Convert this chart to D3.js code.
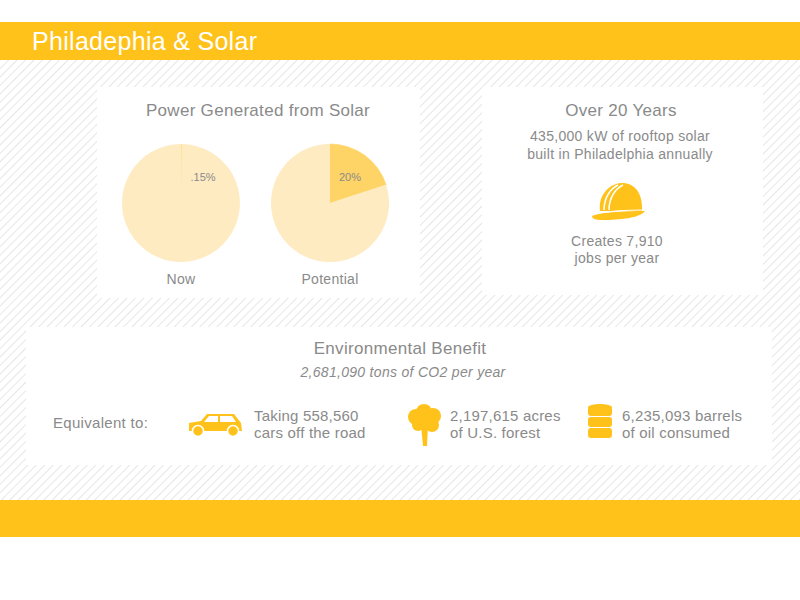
<!DOCTYPE html>
<html>
<head>
<script src="https://cdn.jsdelivr.net/npm/d3@7"></script>
<style>
body { margin:0; background:#fff; }
text { font-family: "Liberation Sans", Arial, sans-serif; }
</style>
</head>
<body>
<script>
var pieLabels = ["Now", "Potential"],
    pieShares = [0.15, 20],
    pieText = [".15%", "20%"];

var equivText = [["Taking 558,560", "cars off the road"],
                 ["2,197,615 acres", "of U.S. forest"],
                 ["6,235,093 barrels", "of oil consumed"]];
var equivX = [254, 450, 622];

var yellow = "#FFC21A", grey = "#8a8a8a";

var svg = d3.select("body").append("svg").attr("width", 800).attr("height", 600);

var defs = svg.append("defs");
var pat = defs.append("pattern").attr("id", "hatch").attr("width", 6).attr("height", 6)
  .attr("patternUnits", "userSpaceOnUse").attr("patternTransform", "rotate(45)");
pat.append("rect").attr("width", 6).attr("height", 6).attr("fill", "#fff");
pat.append("line").attr("x1", 0).attr("y1", 0).attr("x2", 0).attr("y2", 6)
  .attr("stroke", "#e6e6e6").attr("stroke-width", 2);

svg.append("rect").attr("x", 0).attr("y", 60).attr("width", 800).attr("height", 441).attr("fill", "url(#hatch)");
svg.append("rect").attr("x", 0).attr("y", 22).attr("width", 800).attr("height", 38).attr("fill", yellow);
svg.append("rect").attr("x", 0).attr("y", 500).attr("width", 800).attr("height", 37).attr("fill", yellow);
svg.append("text").text("Philadephia & Solar").attr("x", 32).attr("y", 50).attr("fill", "#fff").attr("font-size", 25)
  .attr("letter-spacing", 0.3);

// panels
[[97, 87, 323, 211], [482, 87, 281, 208], [26, 327, 746, 138]].forEach(function(p){
  svg.append("rect").attr("x", p[0]).attr("y", p[1]).attr("width", p[2]).attr("height", p[3]).attr("fill", "#fff");
});

function label(t, x, y, size, extra) {
  var e = svg.append("text").text(t).attr("x", x).attr("y", y).attr("fill", grey)
    .attr("font-size", size).attr("text-anchor", "middle").attr("letter-spacing", 0.3);
  if (extra) e.attr("font-style", extra);
  return e;
}

label("Power Generated from Solar", 258, 116, 17);

var pie = d3.pie().sort(null).value(function(d){ return d; });
var arc = d3.arc().innerRadius(0).outerRadius(59);
var cx = d3.scalePoint().domain(pieLabels).range([181, 330]);

pieLabels.forEach(function(name, i){
  var g = svg.append("g").attr("transform", "translate(" + cx(name) + ",203)");
  var arcs = pie([pieShares[i], 100 - pieShares[i]]);
  g.selectAll("path").data(arcs).enter().append("path").attr("d", arc)
    .attr("fill", function(d, j){ return j == 0 ? "#FFD466" : "#FFEBC2"; })
    .attr("stroke", function(d, j){ return j == 0 ? "#FFD466" : "none"; })
    .attr("stroke-width", 0.6);
  g.append("text").text(pieText[i]).attr("x", i == 0 ? 22 : 20).attr("y", -22)
    .attr("text-anchor", "middle").attr("fill", grey).attr("font-size", 11);
  label(name, cx(name), 284, 14);
});

label("Over 20 Years", 621, 116, 17);
label("435,000 kW of rooftop solar", 620, 141, 14);
label("built in Philadelphia annually", 620, 159, 14);
label("Creates 7,910", 617, 246, 14);
label("jobs per year", 617, 263, 14);

// helmet
var h = svg.append("g").attr("transform", "translate(590,180)");
h.append("path").attr("d", "M10,31 C8,16 18,5 30,3 C44,2 52,12 52,28 L52,31 Z").attr("fill", yellow);
h.append("path").attr("d", "M2,36 C10,32 40,31 55,31 C50,38 30,40 12,40 C6,40 2,39 2,36 Z").attr("fill", yellow);
h.append("path").attr("d", "M14,30 C14,18 20,9 28,5 M19,30 C19,18 25,9 33,5").attr("stroke", "#fff").attr("stroke-width", 1.5).attr("fill", "none");
h.append("path").attr("d", "M8,33 C20,31 40,30 54,30").attr("stroke", "#fff").attr("stroke-width", 1.2).attr("fill", "none");

label("Environmental Benefit", 400, 354, 17);
label("2,681,090 tons of CO2 per year", 403, 377, 14, "italic");
svg.append("text").text("Equivalent to:").attr("x", 53).attr("y", 428).attr("fill", grey).attr("font-size", 15)
  .attr("letter-spacing", 0.3);

equivText.forEach(function(t, i){
  [0, 1].forEach(function(k){
    svg.append("text").text(t[k]).attr("x", equivX[i]).attr("y", 421 + k * 17).attr("fill", grey)
      .attr("font-size", 15).attr("letter-spacing", 0.2);
  });
});

// car
var car = svg.append("g").attr("transform", "translate(189,413)");
car.append("path").attr("d", "M0,10 L12,8 L18,1 L45,1 L52,10 L53,18 L0,18 Z").attr("fill", yellow);
car.append("path").attr("d", "M20,3 L29,3 L29,9 L15,9 Z M31,3 L43,3 L47,9 L31,9 Z").attr("fill", "#fff");
[9, 44].forEach(function(x){
  car.append("circle").attr("cx", x).attr("cy", 18).attr("r", 5.5).attr("fill", yellow).attr("stroke", "#fff").attr("stroke-width", 1.5);
});

// tree
var tr = svg.append("g").attr("transform", "translate(406,403)");
tr.append("path").attr("d", "M15,22 L17,43 L21,43 L22,22 L27,16 L20,20 Z").attr("fill", yellow);
[[18, 9, 8], [10, 14, 8], [27, 13, 8], [12, 22, 6], [26, 22, 7], [19, 17, 8]].forEach(function(c){
  tr.append("circle").attr("cx", c[0]).attr("cy", c[1]).attr("r", c[2]).attr("fill", yellow);
});

// barrel
var b = svg.append("g").attr("transform", "translate(588,405)");
[0, 11, 22].forEach(function(y){
  b.append("rect").attr("x", 0).attr("y", y + 1).attr("width", 24).attr("height", 10).attr("rx", 3).attr("fill", yellow);
});
b.append("ellipse").attr("cx", 12).attr("cy", 2).attr("rx", 12).attr("ry", 3).attr("fill", yellow);
</script>
</body>
</html>
